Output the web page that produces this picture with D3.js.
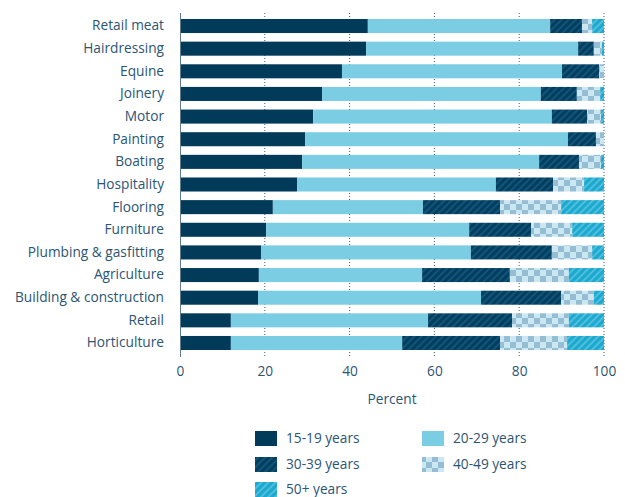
<!DOCTYPE html>
<html>
<head>
<meta charset="utf-8">
<script src="https://cdn.jsdelivr.net/npm/d3@7"></script>
<style>
  html, body { margin: 0; padding: 0; background: #fff; }
  svg { display: block; font-family: "Open Sans", sans-serif; }
</style>
</head>
<body>
<svg id="chart" width="625" height="497"></svg>
<script>
// Industries, top to bottom
const industries = [
  "Retail meat", "Hairdressing", "Equine", "Joinery", "Motor", "Painting",
  "Boating", "Hospitality", "Flooring", "Furniture", "Plumbing & gasfitting",
  "Agriculture", "Building & construction", "Retail", "Horticulture"
];

// Age group names
const ageGroups = ["15-19 years", "20-29 years", "30-39 years", "40-49 years", "50+ years"];

// Share of each industry in each age group (percent)
const age15to19 = [44.3, 43.9, 38.2, 33.5, 31.4, 29.5, 28.8, 27.6, 21.9, 20.3, 19.1, 18.6, 18.4, 12.0, 12.0];
const age20to29 = [43.0, 50.0, 51.9, 51.6, 56.3, 62.0, 55.9, 46.9, 35.4, 47.9, 49.5, 38.5, 52.6, 46.5, 40.4];
const age30to39 = [7.5, 3.7, 8.8, 8.5, 8.3, 6.6, 9.4, 13.5, 18.2, 14.6, 19.1, 20.7, 18.9, 19.8, 23.1];
const age40to49 = [2.4, 1.9, 1.1, 5.5, 3.3, 1.9, 5.2, 7.3, 14.4, 9.7, 9.5, 13.9, 7.7, 13.4, 15.8];
const age50plus = [2.8, 0.5, 0.0, 0.9, 0.7, 0.0, 0.7, 4.7, 10.1, 7.5, 2.8, 8.3, 2.4, 8.3, 8.7];

const xTicks = [0, 20, 40, 60, 80, 100];

const series = [age15to19, age20to29, age30to39, age40to49, age50plus];
const rows = industries.map((name, i) => {
  const r = { name };
  ageGroups.forEach((g, k) => { r[g] = series[k][i]; });
  return r;
});

const textColor = "#2b5573";
const fontSize = 13.7;
const svg = d3.select("#chart");

// Fill patterns for the hatched groups
const defs = svg.append("defs");
function stripes(id, base, stripe) {
  const p = defs.append("pattern").attr("id", id)
    .attr("patternUnits", "userSpaceOnUse").attr("width", 5).attr("height", 5)
    .attr("patternTransform", "rotate(45)");
  p.append("rect").attr("width", 5).attr("height", 5).attr("fill", base);
  p.append("rect").attr("width", 2).attr("height", 5).attr("fill", stripe);
}
stripes("p30", "#043e5f", "#10557a");
stripes("p50", "#1ba9cf", "#4fbedd");
const chk = defs.append("pattern").attr("id", "p40")
  .attr("patternUnits", "userSpaceOnUse").attr("width", 12).attr("height", 12);
chk.append("rect").attr("width", 12).attr("height", 12).attr("fill", "#cbe7f2");
chk.append("rect").attr("width", 6).attr("height", 6).attr("fill", "#95bed5");
chk.append("rect").attr("x", 6).attr("y", 6).attr("width", 6).attr("height", 6).attr("fill", "#95bed5");

const fills = {
  "15-19 years": "#023a5a",
  "20-29 years": "#7bcde3",
  "30-39 years": "url(#p30)",
  "40-49 years": "url(#p40)",
  "50+ years": "url(#p50)"
};

const x = d3.scaleLinear().domain([0, 100]).range([180, 604]);
const y = d3.scaleBand().domain(industries).range([14.7, 354.3]).paddingInner(0.38).paddingOuter(0.19);

// Dotted grid lines
svg.append("g").selectAll("line").data(xTicks.filter(t => t > 0)).join("line")
  .attr("x1", d => x(d)).attr("x2", d => x(d))
  .attr("y1", 13).attr("y2", 357)
  .attr("stroke", "#3a5a72").attr("stroke-width", 1)
  .attr("stroke-dasharray", "1,2");

// Stacked bars
const stack = d3.stack().keys(ageGroups)(rows);
svg.append("g").selectAll("g").data(stack).join("g")
  .attr("fill", d => fills[d.key])
  .selectAll("rect").data(d => d).join("rect")
  .attr("x", d => x(d[0]))
  .attr("width", d => Math.max(0, x(d[1]) - x(d[0])))
  .attr("y", d => y(d.data.name))
  .attr("height", y.bandwidth());

// Y axis
const yAxis = svg.append("g").attr("transform", "translate(180,0)")
  .call(d3.axisLeft(y).tickSize(0).tickPadding(16));
yAxis.select(".domain").attr("stroke", "#5f7b8e").attr("d", "M0.5,13V357");
yAxis.selectAll("text").attr("fill", textColor).attr("font-size", fontSize)
  .attr("font-family", "'Open Sans', sans-serif");

// X axis
const xAxis = svg.append("g").attr("transform", "translate(0,357)")
  .call(d3.axisBottom(x).tickValues(xTicks).tickSize(0).tickPadding(9));
xAxis.select(".domain").remove();
xAxis.selectAll("text").attr("fill", textColor).attr("font-size", fontSize)
  .attr("font-family", "'Open Sans', sans-serif");

svg.append("text").attr("x", x(50)).attr("y", 404)
  .attr("text-anchor", "middle").attr("fill", textColor).attr("font-size", fontSize)
  .text("Percent");

// Legend
const legend = svg.append("g");
const legendPos = [[255, 431], [422, 431], [255, 457], [422, 457], [255, 482]];
ageGroups.forEach((g, i) => {
  const [lx, ly] = legendPos[i];
  legend.append("rect").attr("x", lx).attr("y", ly).attr("width", 22).attr("height", 15)
    .attr("fill", fills[g]);
  legend.append("text").attr("x", lx + 31).attr("y", ly + 7.5).attr("dy", "0.35em")
    .attr("fill", textColor).attr("font-size", fontSize).text(g);
});
</script>
</body>
</html>
